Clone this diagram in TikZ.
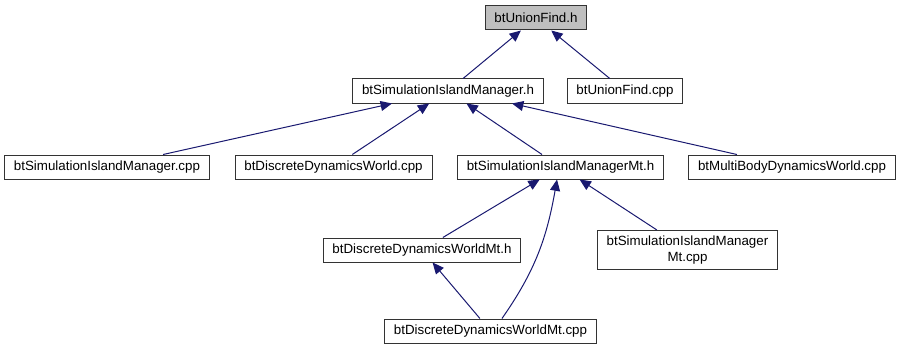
\documentclass[tikz,border=0pt]{standalone}
\usepackage{fontspec}
\setmainfont{Liberation Sans}
\usepackage{tikz}
\usetikzlibrary{arrows.meta}
\definecolor{edgeblue}{HTML}{191970}
\definecolor{rootgray}{HTML}{BFBFBF}
\tikzset{
  filenode/.style = {rectangle, draw=black!80, fill=white, align=center, inner xsep=7pt, inner ysep=4pt, minimum height=18pt, font=\fontsize{10}{12}\selectfont, line width=0.75pt},
  rootnode/.style = {filenode, fill=rootgray},
  incl/.style = {draw=edgeblue, line width=0.75pt, -{Triangle[length=8.5pt, width=7.5pt]}}
}

\begin{document}
\begin{tikzpicture}[x=0.75pt, y=0.75pt]
    \useasboundingbox (0,0) rectangle (903,351);
    \node[rootnode] (ufh) at (536,333) {btUnionFind.h};
    \node[filenode] (simh) at (448,260) {btSimulationIslandManager.h};
    \node[filenode] (ufcpp) at (625,260) {btUnionFind.cpp};
    \node[filenode] (simcpp) at (107,184) {btSimulationIslandManager.cpp};
    \node[filenode] (ddwcpp) at (333.5,184) {btDiscreteDynamicsWorld.cpp};
    \node[filenode] (simmth) at (560.5,184) {btSimulationIslandManagerMt.h};
    \node[filenode] (mbdwcpp) at (792,184) {btMultiBodyDynamicsWorld.cpp};
    \node[filenode] (ddwmth) at (422,101) {btDiscreteDynamicsWorldMt.h};
    \node[filenode] (simmtcpp) at (687.5,101) {btSimulationIslandManager\\Mt.cpp};
    \node[filenode] (ddwmtcpp) at (490.5,20) {btDiscreteDynamicsWorldMt.cpp};

    \draw[incl] (simh) -- (ufh);
    \draw[incl] (ufcpp) -- (ufh);
    \draw[incl] (simcpp) -- (simh);
    \draw[incl] (ddwcpp) -- (simh);
    \draw[incl] (simmth) -- (simh);
    \draw[incl] (mbdwcpp) -- ([xshift=48pt]simh.south);
    \draw[incl] (ddwmth) -- (simmth);
    \draw[incl] (simmtcpp) -- (simmth);
    \draw[incl] ([xshift=8.6pt]ddwmtcpp.north) to[out=55, in=-100] ([xshift=-2.6pt]simmth.south);
    \draw[incl] (ddwmtcpp) -- (ddwmth);
\end{tikzpicture}
\end{document}
